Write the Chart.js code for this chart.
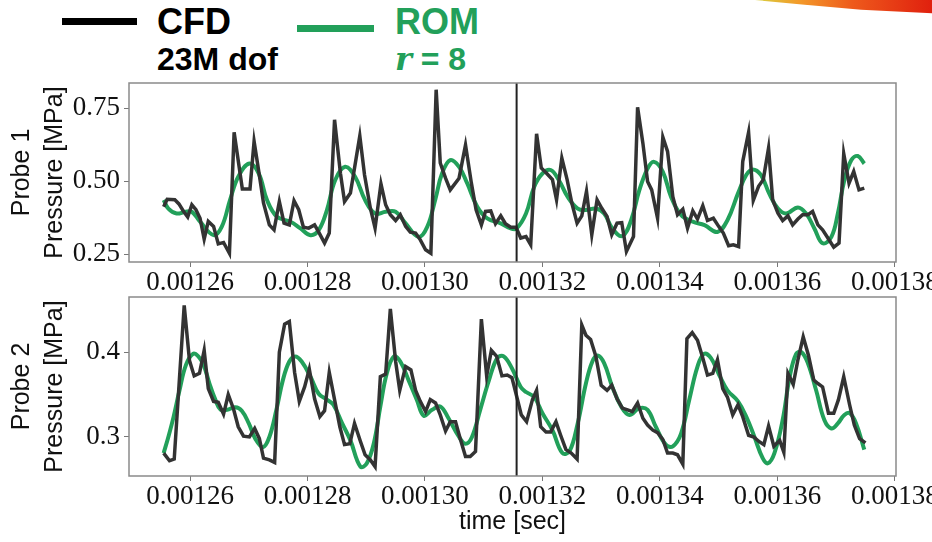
<!DOCTYPE html>
<html>
<head>
<meta charset="utf-8">
<script src="https://cdn.jsdelivr.net/npm/chart.js@4.4.0/dist/chart.umd.min.js"></script>
<style>
  body { margin: 0; width: 932px; height: 542px; overflow: hidden; position: relative; background: #fff; font-family: 'Liberation Sans', Arial, sans-serif; }
  .leg-line { position: absolute; height: 7px; }
  .leg-txt { position: absolute; font-weight: bold; line-height: 1; white-space: nowrap; }
  .swoosh { position: absolute; left: 755px; top: 0; width: 177px; height: 14px;
            background: linear-gradient(90deg, #d8d040 0%, #f39a2a 25%, #ee5a1c 55%, #e0200e 100%);
            clip-path: polygon(0 0, 100% 0, 100% 95%, 60% 70%, 25% 30%); }
  canvas { position: absolute; left: 0; }
</style>
</head>
<body>
<div class="swoosh"></div>
<div class="leg-line" style="left:62px;top:18px;width:75px;background:#000"></div>
<div class="leg-txt" style="left:157px;top:4px;font-size:36px;color:#000">CFD</div>
<div class="leg-txt" style="left:157px;top:43px;font-size:32px;color:#000">23M dof</div>
<div class="leg-line" style="left:297px;top:25px;width:77px;background:#22a05a"></div>
<div class="leg-txt" style="left:395px;top:4px;font-size:36px;color:#22a05a">ROM</div>
<div class="leg-txt" style="left:395px;top:43px;font-size:32px;color:#22a05a"><i style="font-family:'DejaVu Serif',serif">r</i> = 8</div>

<canvas id="probe1" width="932" height="213" style="top:80px"></canvas>
<canvas id="probe2" width="932" height="249" style="top:293px"></canvas>

<script>
// time in microseconds, pressure in MPa
const xTicks = [1260, 1280, 1300, 1320, 1340, 1360, 1380];
const p1Ticks = [0.25, 0.50, 0.75];
const p2Ticks = [0.3, 0.4];
const splitTime = 1315.6;

// Probe 1 - CFD
const cfd1Time = [
  1255.5,1256.1,1257.4,1258.1,1258.9,1259.6,1260.3,1261.0,1261.7,1262.4,
  1263.1,1264.0,1264.8,1265.7,1266.7,1267.5,1268.9,1270.2,1270.9,1271.7,
  1272.5,1273.5,1274.3,1275.2,1276.0,1276.9,1277.7,1278.5,1279.3,1280.2,
  1281.2,1282.0,1282.9,1283.7,1284.6,1285.6,1286.3,1287.3,1288.9,1289.7,
  1290.7,1291.5,1292.5,1293.3,1294.1,1295.0,1295.8,1296.7,1297.5,1298.4,
  1299.2,1300.1,1301.0,1301.9,1302.6,1303.5,1304.3,1305.8,1306.9,1307.9,
  1308.7,1309.6,1310.3,1311.2,1312.0,1312.9,1313.7,1314.6,
  1315.5,1316.3,1317.2,1318.0,1319.0,1319.8,1320.7,1321.7,1322.4,1323.3,
  1324.2,1325.0,1325.9,1326.7,1327.5,1328.4,1329.3,1330.1,1331.0,1331.8,
  1332.7,1333.5,1334.3,1335.5,1336.2,1337.1,1337.9,1338.6,1339.6,1340.5,
  1341.3,1342.2,1343.0,1343.9,1344.7,1345.6,1346.4,1347.3,1348.1,1349.1,
  1350.0,1350.8,1351.7,1352.5,1353.4,1354.1,1355.1,1355.9,1356.8,1357.6,
  1358.5,1359.2,1360.1,1360.9,1361.8,1362.6,1363.5,1364.3,1365.2,1366.0,
  1366.9,1367.7,1368.6,1369.6,1370.5,1371.3,1372.2,1373.0,1373.9,1374.8
];
const cfd1P = [
  0.412,0.438,0.436,0.422,0.396,0.377,0.419,0.402,0.373,0.301,
  0.362,0.345,0.285,0.290,0.253,0.667,0.473,0.473,0.636,0.533,
  0.425,0.350,0.333,0.430,0.356,0.350,0.433,0.402,0.342,0.339,
  0.350,0.322,0.288,0.322,0.710,0.527,0.430,0.459,0.655,0.522,
  0.407,0.339,0.491,0.419,0.385,0.365,0.385,0.345,0.325,0.322,
  0.299,0.265,0.253,0.813,0.562,0.510,0.470,0.510,0.624,0.493,
  0.402,0.350,0.396,0.398,0.354,0.381,0.354,0.342,
  0.342,0.305,0.310,0.282,0.662,0.545,0.527,0.505,0.436,0.579,
  0.505,0.425,0.356,0.381,0.465,0.316,0.436,0.407,0.379,0.316,
  0.356,0.358,0.259,0.310,0.753,0.630,0.499,0.470,0.373,0.651,
  0.602,0.447,0.385,0.404,0.339,0.398,0.370,0.416,0.365,0.373,
  0.345,0.322,0.279,0.282,0.276,0.567,0.667,0.434,0.482,0.505,
  0.613,0.436,0.390,0.365,0.381,0.350,0.370,0.385,0.385,0.396,
  0.350,0.333,0.305,0.274,0.288,0.594,0.493,0.533,0.470,0.476
];

// Probe 1 - ROM
const rom1Time = [
  1255.5,1256.3,1257.7,1259.2,1260.3,1261.7,1264.0,1265.4,1266.8,1268.2,
  1270.1,1271.7,1273.1,1274.8,1277.1,1278.8,1280.5,1281.9,1283.3,1284.7,
  1286.4,1288.1,1289.8,1291.5,1293.3,1295.0,1296.7,1298.9,1300.4,1301.8,
  1302.9,1304.3,1305.8,1307.2,1308.9,1310.6,1312.9,1314.6,1315.6,1317.2,
  1318.6,1320.0,1321.4,1322.8,1324.3,1326.0,1327.4,1329.1,1330.5,1331.9,
  1333.6,1335.1,1336.5,1337.9,1339.0,1340.5,1341.9,1343.6,1345.6,1347.6,
  1349.8,1351.5,1353.3,1354.7,1355.8,1357.2,1358.6,1360.1,1361.5,1363.5,
  1364.9,1366.3,1367.7,1369.2,1370.3,1371.4,1372.6,1373.7,1374.8
];
const rom1P = [
  0.435,0.406,0.389,0.395,0.395,0.361,0.315,0.344,0.435,0.515,
  0.560,0.526,0.435,0.378,0.361,0.338,0.315,0.332,0.401,0.503,
  0.549,0.515,0.435,0.389,0.395,0.395,0.355,0.309,0.344,0.441,
  0.526,0.572,0.549,0.492,0.412,0.372,0.355,0.338,0.338,0.389,
  0.481,0.526,0.538,0.503,0.446,0.406,0.401,0.406,0.389,0.338,
  0.312,0.366,0.469,0.543,0.566,0.532,0.446,0.384,0.361,0.349,
  0.326,0.366,0.458,0.521,0.540,0.521,0.458,0.406,0.389,0.410,
  0.389,0.338,0.287,0.309,0.389,0.503,0.572,0.586,0.560
];

// Probe 2 - CFD
const cfd2Time = [
  1255.5,1256.5,1257.3,1259.0,1259.9,1260.7,1261.6,1262.4,1263.1,1264.0,
  1264.8,1265.7,1266.5,1267.4,1268.2,1269.1,1270.1,1271.0,1271.8,1272.5,
  1273.5,1274.4,1275.2,1276.1,1276.9,1277.8,1278.6,1279.5,1280.3,1281.2,
  1282.1,1282.9,1283.7,1284.6,1285.5,1286.3,1287.2,1288.0,1289.0,1289.8,
  1290.7,1291.5,1292.4,1293.3,1294.1,1295.0,1295.7,1296.7,1297.6,1298.4,
  1299.2,1300.1,1300.9,1301.8,1302.6,1303.5,1304.3,1305.2,1306.0,1306.9,
  1307.7,1308.6,1309.6,1310.5,1311.3,1312.2,1313.1,1314.0,1314.8,1315.5,
  1316.4,1317.3,1318.3,1319.0,1319.7,1320.6,1321.4,1322.3,1323.1,1324.0,
  1324.9,1325.9,1326.7,1327.4,1328.2,1329.1,1330.0,1331.0,1331.8,1332.7,
  1333.6,1334.5,1335.3,1336.2,1337.1,1337.9,1338.8,1339.6,1340.5,1341.3,
  1342.2,1343.0,1343.9,1344.6,1345.5,1346.4,1347.3,1348.1,1349.0,1349.8,
  1350.7,1351.5,1352.4,1353.3,1354.1,1355.1,1356.0,1356.8,1357.7,1358.5,
  1359.4,1360.4,1361.1,1361.8,1362.7,1363.5,1364.4,1365.3,1366.2,1366.9,
  1367.7,1368.7,1369.6,1370.4,1371.3,1372.3,1373.1,1374.0,1375.0
];
const cfd2P = [
  0.281,0.272,0.274,0.455,0.390,0.372,0.375,0.402,0.357,0.342,
  0.341,0.327,0.350,0.333,0.312,0.301,0.300,0.310,0.298,0.275,
  0.273,0.270,0.400,0.433,0.436,0.376,0.342,0.359,0.380,0.345,
  0.324,0.331,0.376,0.344,0.312,0.291,0.292,0.316,0.295,0.279,
  0.273,0.265,0.371,0.374,0.451,0.389,0.355,0.383,0.379,0.355,
  0.342,0.330,0.344,0.340,0.326,0.307,0.318,0.318,0.298,0.277,
  0.277,0.283,0.439,0.372,0.402,0.395,0.372,0.373,0.370,0.351,
  0.326,0.318,0.344,0.355,0.312,0.306,0.306,0.318,0.302,0.285,
  0.281,0.274,0.432,0.420,0.415,0.395,0.361,0.355,0.361,0.345,
  0.334,0.332,0.330,0.340,0.322,0.314,0.308,0.305,0.297,0.281,
  0.281,0.279,0.268,0.416,0.423,0.414,0.393,0.373,0.375,0.391,
  0.357,0.347,0.326,0.338,0.324,0.302,0.300,0.295,0.291,0.313,
  0.289,0.296,0.282,0.375,0.362,0.391,0.418,0.396,0.367,0.363,
  0.359,0.328,0.328,0.344,0.371,0.338,0.314,0.298,0.293
];

// Probe 2 - ROM
const rom2Time = [
  1255.5,1256.3,1257.2,1258.2,1259.3,1260.5,1261.4,1262.3,1263.3,1264.3,
  1265.2,1266.3,1267.7,1268.8,1270.0,1271.1,1272.4,1273.5,1274.7,1275.8,
  1276.9,1277.9,1279.0,1280.5,1281.9,1283.3,1284.4,1285.9,1287.3,1289.0,
  1290.1,1291.3,1292.4,1293.5,1294.7,1295.8,1297.2,1298.6,1299.8,1301.2,
  1302.6,1304.0,1305.8,1306.9,1308.0,1309.4,1310.9,1312.3,1313.4,1314.8,
  1316.3,1317.2,1318.6,1320.0,1321.7,1323.4,1324.6,1326.0,1327.4,1328.5,
  1329.4,1330.5,1331.9,1333.4,1334.8,1336.5,1337.9,1339.3,1341.0,1342.2,
  1343.6,1345.0,1346.4,1347.5,1348.7,1350.1,1351.5,1353.3,1354.7,1356.1,
  1357.5,1358.4,1359.5,1360.9,1362.1,1363.2,1364.1,1365.2,1366.6,1368.0,
  1369.2,1370.3,1371.4,1372.3,1373.4,1374.8
];
const rom2P = [
  0.281,0.300,0.324,0.355,0.385,0.398,0.395,0.385,0.363,0.344,
  0.332,0.332,0.335,0.331,0.316,0.298,0.288,0.300,0.332,0.367,
  0.389,0.395,0.389,0.371,0.351,0.344,0.338,0.316,0.296,0.265,
  0.269,0.293,0.336,0.375,0.395,0.389,0.367,0.344,0.325,0.332,
  0.336,0.322,0.300,0.292,0.300,0.332,0.367,0.393,0.395,0.381,
  0.359,0.353,0.347,0.328,0.308,0.281,0.283,0.316,0.363,0.389,
  0.396,0.387,0.359,0.336,0.326,0.334,0.332,0.312,0.291,0.289,
  0.304,0.344,0.383,0.398,0.393,0.373,0.355,0.342,0.324,0.300,
  0.275,0.269,0.281,0.320,0.371,0.398,0.400,0.387,0.355,0.320,
  0.310,0.316,0.326,0.328,0.316,0.285
];

const cfdColor = '#333333';
const romColor = '#22a05a';
const serif = "'Liberation Serif', 'DejaVu Serif', serif";
const sans = "'Liberation Sans', Arial, sans-serif";

function pts(t, p) { return t.map((v, i) => ({ x: v, y: p[i] })); }

const framePlugin = {
  id: 'frame',
  afterDatasetsDraw(chart) {
    const { ctx, chartArea: a, scales } = chart;
    const xv = scales.x.getPixelForValue(splitTime);
    ctx.save();
    ctx.strokeStyle = '#222';
    ctx.lineWidth = 2;
    ctx.beginPath();
    ctx.moveTo(xv, a.top);
    ctx.lineTo(xv, a.bottom);
    ctx.stroke();
    ctx.strokeStyle = '#8a8a8a';
    ctx.lineWidth = 1.5;
    ctx.strokeRect(a.left, a.top, a.right - a.left, a.bottom - a.top);
    ctx.restore();
  }
};

function makeChart(id, cfdT, cfdP, romT, romP, yMin, yMax, yTicks, yDigits, probeName, xHeight, padTop, showTitle) {
  return new Chart(document.getElementById(id), {
    type: 'line',
    data: {
      datasets: [
        { label: 'CFD', data: pts(cfdT, cfdP), borderColor: cfdColor, borderWidth: 3.5,
          pointRadius: 0, tension: 0, borderJoinStyle: 'miter' },
        { label: 'ROM', data: pts(romT, romP), borderColor: romColor, borderWidth: 4,
          pointRadius: 0, tension: 0.4 }
      ]
    },
    options: {
      responsive: false,
      animation: false,
      devicePixelRatio: 1,
      layout: { padding: { top: padTop, right: 36, left: 0, bottom: 0 } },
      plugins: { legend: { display: false }, tooltip: { enabled: false } },
      scales: {
        x: {
          type: 'linear', min: 1249.6, max: 1380.2,
          afterBuildTicks: s => { s.ticks = xTicks.map(v => ({ value: v })); },
          afterFit: s => { s.height = xHeight; s.paddingLeft = 0; s.paddingRight = 0; },
          grid: { drawOnChartArea: false, tickLength: 5, color: '#777' },
          border: { display: false },
          ticks: { color: '#111', padding: 0, maxRotation: 0, autoSkip: false,
                   font: { family: serif, size: 27 },
                   callback: v => (v * 1e-6).toFixed(5) },
          title: { display: showTitle, text: 'time [sec]', color: '#111',
                   font: { family: sans, size: 25, lineHeight: 1.2 }, padding: { top: 0, bottom: 5 } }
        },
        y: {
          min: yMin, max: yMax,
          afterBuildTicks: s => { s.ticks = yTicks.map(v => ({ value: v })); },
          afterFit: s => { s.width = 129; s.paddingTop = 0; s.paddingBottom = 0; },
          grid: { drawOnChartArea: false, tickLength: 5, color: '#777' },
          border: { display: false },
          ticks: { color: '#111', padding: 4, font: { family: serif, size: 27 },
                   callback: v => v.toFixed(yDigits) },
          title: { display: true, text: [probeName, 'Pressure [MPa]'], color: '#111',
                   font: { family: sans, size: 25, lineHeight: 1.3 }, padding: { top: 6, bottom: 0 } }
        }
      }
    },
    plugins: [framePlugin]
  });
}

makeChart('probe1', cfd1Time, cfd1P, rom1Time, rom1P, 0.223, 0.836, p1Ticks, 2, 'Probe 1', 31, 3, false);
makeChart('probe2', cfd2Time, cfd2P, rom2Time, rom2P, 0.254, 0.465, p2Ticks, 1, 'Probe 2', 66, 4, true);
</script>
</body>
</html>
